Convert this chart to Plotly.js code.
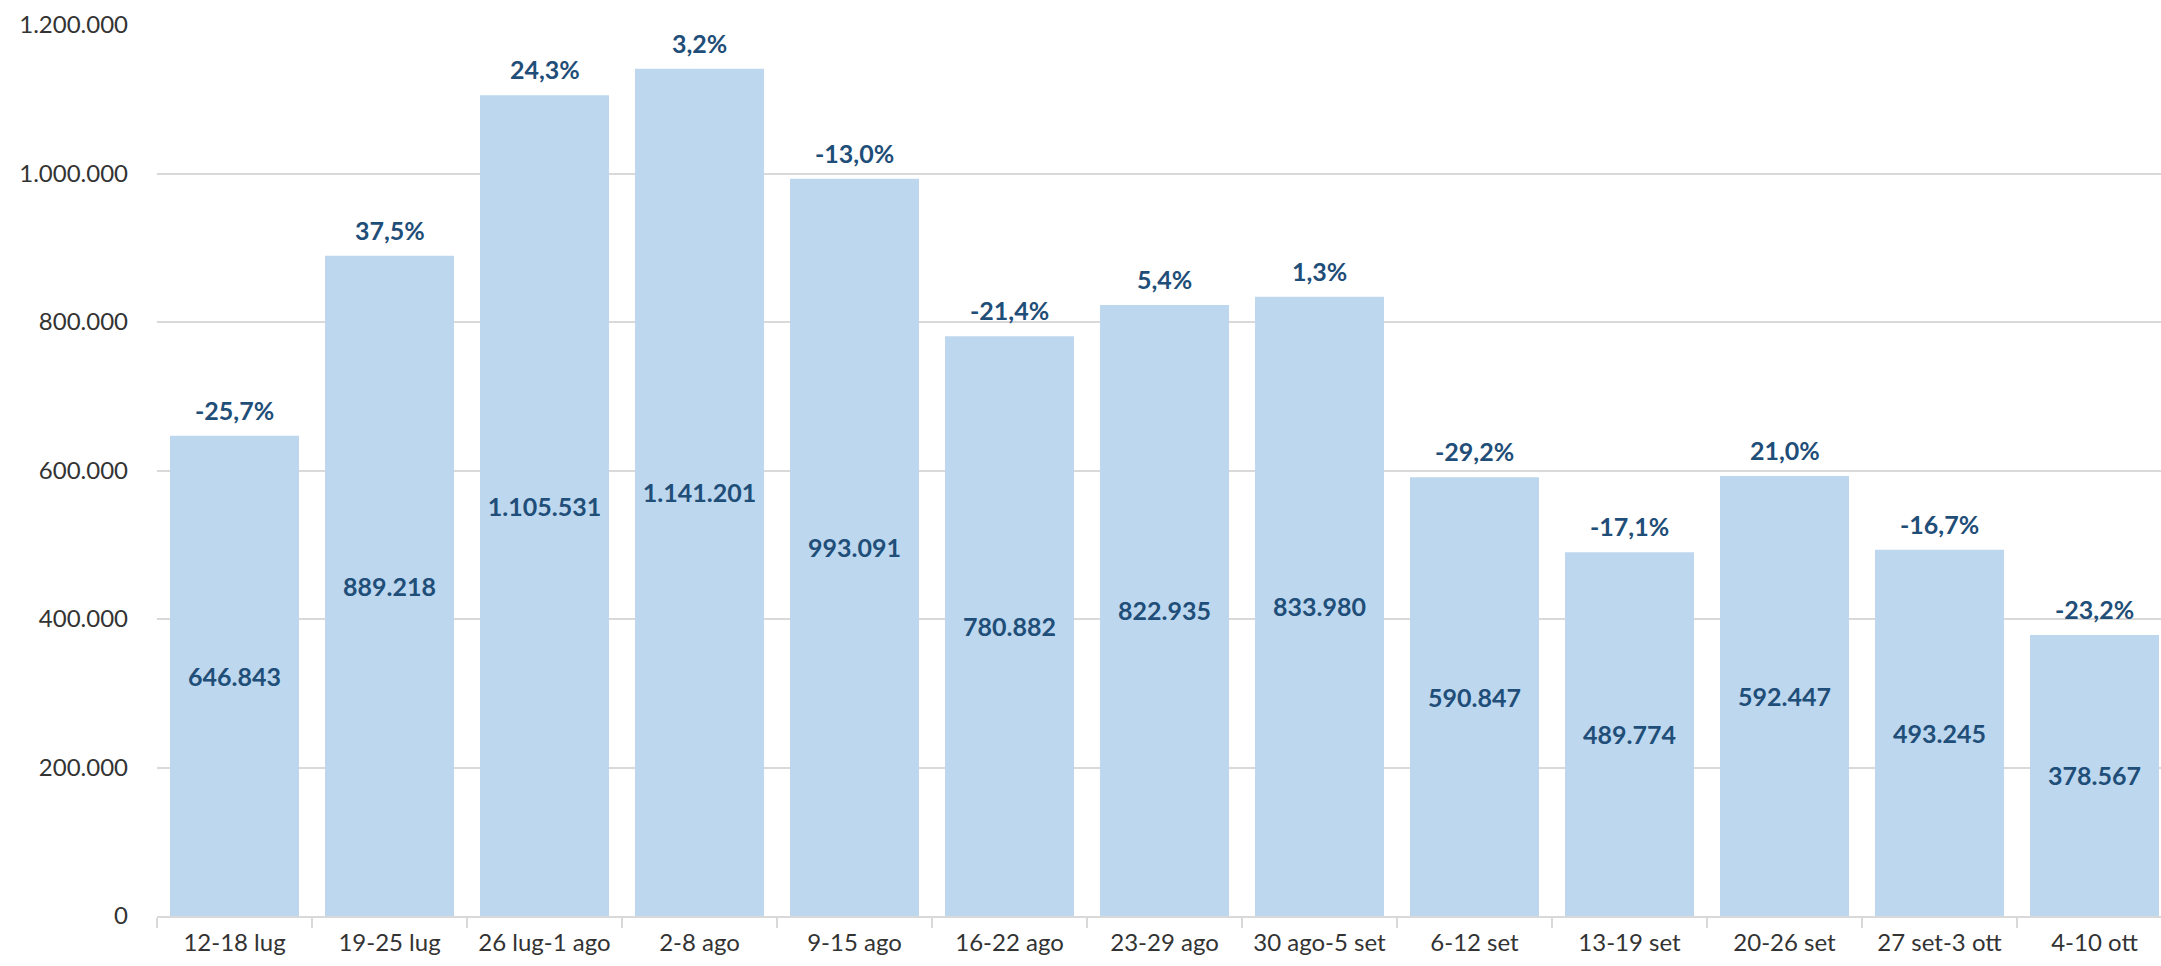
<!DOCTYPE html>
<html>
<head>
<meta charset="utf-8">
<script src="https://cdn.plot.ly/plotly-3.0.1.min.js"></script>
<style>html,body{margin:0;padding:0;background:#fff;overflow:hidden;width:2161px;height:966px;}#chart{width:2172px;height:966px;}</style>
</head>
<body>
<div id="chart"></div>
<script>
const categories = ['12-18 lug','19-25 lug','26 lug-1 ago','2-8 ago','9-15 ago','16-22 ago','23-29 ago','30 ago-5 set','6-12 set','13-19 set','20-26 set','27 set-3 ott','4-10 ott'];
const values = [646843, 889218, 1105531, 1141201, 993091, 780882, 822935, 833980, 590847, 489774, 592447, 493245, 378567];
const pctChange = [-25.7, 37.5, 24.3, 3.2, -13.0, -21.4, 5.4, 1.3, -29.2, -17.1, 21.0, -16.7, -23.2];
const yTicks = [0, 200000, 400000, 600000, 800000, 1000000, 1200000];

const FONT = 'Lato, "Open Sans", sans-serif';
const LABEL_COLOR = '#1F4E79';
const TICK_COLOR = '#333333';

const fmtPct = v => v.toFixed(1).replace('.', ',') + '%';

const barTrace = {
  type: 'bar',
  x: categories,
  y: values,
  marker: {color: '#BDD7EE', line: {width: 0}},
  texttemplate: '%{y:,}',
  textposition: 'inside',
  insidetextanchor: 'middle',
  textangle: 0,
  constraintext: 'none',
  insidetextfont: {family: FONT, size: 25, color: LABEL_COLOR, weight: 'bold'},
  hoverinfo: 'skip'
};

const annotations = categories.map((c, i) => ({
  x: c, y: values[i], xref: 'x', yref: 'y',
  text: fmtPct(pctChange[i]),
  showarrow: false, yanchor: 'bottom', yshift: 9,
  font: {family: FONT, size: 25, color: LABEL_COLOR, weight: 'bold'}
}));

const layout = {
  width: 2172, height: 966,
  margin: {l: 157, r: 0, t: 25, b: 50},
  paper_bgcolor: '#ffffff', plot_bgcolor: '#ffffff',
  separators: ',.',
  showlegend: false,
  bargap: 0.168,
  font: {family: FONT, size: 24, color: TICK_COLOR},
  xaxis: {
    type: 'category',
    showline: true, linecolor: '#D9D9D9', linewidth: 2,
    ticks: 'outside', tickson: 'boundaries', ticklen: 10, tickcolor: '#D9D9D9', tickwidth: 2,
    ticklabelstandoff: 4,
    tickfont: {family: FONT, size: 24, color: TICK_COLOR},
    showgrid: false, automargin: false, fixedrange: true
  },
  yaxis: {
    range: [0, 1200000],
    tickvals: yTicks,
    tickformat: ',d',
    showgrid: true, gridcolor: '#D9D9D9', gridwidth: 2,
    zeroline: false, showline: false, ticks: '',
    ticklabelstandoff: 28,
    tickfont: {family: FONT, size: 24, color: TICK_COLOR},
    automargin: false, fixedrange: true
  },
  annotations: annotations
};

Plotly.newPlot('chart', [barTrace], layout, {displayModeBar: false, staticPlot: true});
</script>
</body>
</html>
